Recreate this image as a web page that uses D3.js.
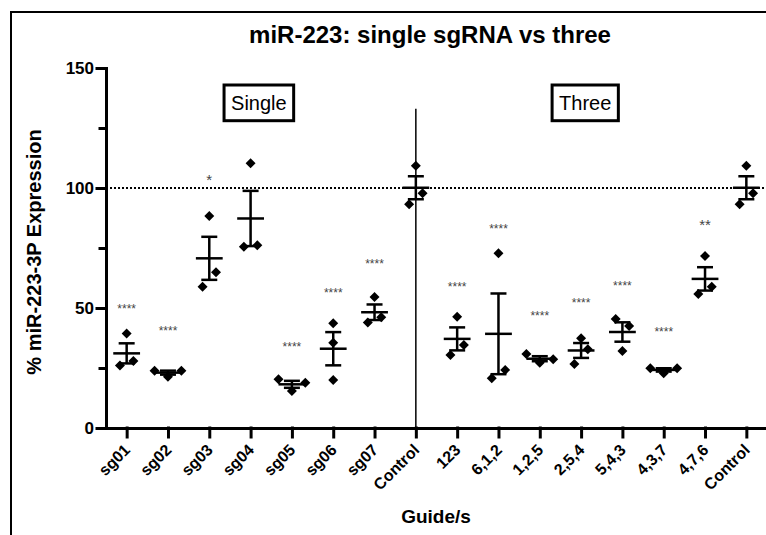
<!DOCTYPE html>
<html>
<head>
<meta charset="utf-8">
<script src="https://cdn.jsdelivr.net/npm/d3@7"></script>
<style>
  body { margin: 0; background: #fff; }
  svg { display: block; font-family: "Liberation Sans", Arial, sans-serif; }
</style>
</head>
<body>
<svg id="chart" width="766" height="535"></svg>
<script>
// categories along the x axis (two groups: single guides, then three-guide pools)
var categories = ['sg01', 'sg02', 'sg03', 'sg04', 'sg05', 'sg06', 'sg07', 'Control',
                  '123', '6,1,2', '1,2,5', '2,5,4', '5,4,3', '4,3,7', '4,7,6', 'Control'];

// the three replicates of each category (% expression)
var rep1 = [26.0, 23.9, 58.9, 75.5, 20.3, 43.6, 44.0, 93.2, 30.4, 20.7, 30.8, 26.7, 45.4, 24.9, 55.8, 93.2];
var rep2 = [39.4, 21.4, 88.3, 110.3, 15.4, 35.5, 54.6, 109.3, 46.4, 72.8, 27.2, 37.4, 42.5, 22.8, 71.7, 109.3];
var rep3 = [27.9, 23.9, 64.9, 76.1, 18.9, 20.0, 46.1, 97.8, 34.6, 24.2, 28.6, 32.8, 32.1, 24.9, 58.9, 97.8];

// significance marks and the level (in % units) where they sit
var stars     = ['****', '****', '*', '', '****', '****', '****', '', '****', '****', '****', '****', '****', '****', '**', ''];
var starLevel = [51, 41.8, 104.7, 0, 34.9, 57.5, 69.6, 0, 59.9, 84.2, 47.8, 53.3, 60.5, 41.1, 86, 0];

var yMajor = [0, 50, 100, 150];
var yMinor = [25, 75, 125];
var reference = 100;

var svg = d3.select('#chart');
var font = '"Liberation Sans", Arial, sans-serif';

var x = d3.scalePoint().domain(d3.range(categories.length)).range([106, 767]).padding(0.5);
var y = d3.scaleLinear().domain([0, 150]).range([428, 68]);

// outer frame (cut off at right and bottom like the original)
svg.append('rect')
   .attr('x', 11).attr('y', 12).attr('width', 900).attr('height', 700)
   .style('fill', 'none').style('stroke', '#000').style('stroke-width', 2);

svg.append('text')
   .attr('x', 430).attr('y', 43)
   .attr('text-anchor', 'middle')
   .style('font-size', '24px').style('font-weight', 'bold')
   .text('miR-223: single sgRNA vs three');

// reference line at 100 %
svg.append('line')
   .attr('x1', 106).attr('x2', 767)
   .attr('y1', y(reference)).attr('y2', y(reference))
   .style('stroke', '#000').style('stroke-width', 2).style('stroke-dasharray', '2,2');

// separator between the two groups
svg.append('line')
   .attr('x1', x(7)).attr('x2', x(7))
   .attr('y1', y(133)).attr('y2', y(0))
   .style('stroke', '#000').style('stroke-width', 1.5);

// axes
var yAxis = svg.append('g').attr('transform', 'translate(106,0)')
   .call(d3.axisLeft(y).tickValues(yMajor).tickSize(9).tickSizeOuter(0).tickPadding(3));
svg.append('g').attr('transform', 'translate(106,0)')
   .call(d3.axisLeft(y).tickValues(yMinor).tickSize(6).tickSizeOuter(0).tickFormat(''))
   .select('.domain').remove();
yAxis.selectAll('text').style('font-size', '17px').style('font-weight', 'bold').style('font-family', font);

var xAxis = svg.append('g').attr('transform', 'translate(0,428)')
   .call(d3.axisBottom(x).tickSize(9).tickSizeOuter(0).tickFormat(function(i) { return categories[i]; }));
xAxis.selectAll('text')
   .attr('text-anchor', 'end')
   .attr('x', 0).attr('y', 0).attr('dy', '0.35em')
   .attr('transform', 'translate(0,19) rotate(-45)')
   .style('font-size', '16px').style('font-weight', 'bold').style('font-family', font);

svg.selectAll('.domain, .tick line')
   .style('stroke', '#000').style('stroke-width', 3).style('stroke-linecap', 'square');

svg.append('text')
   .attr('transform', 'translate(41,252) rotate(-90)')
   .attr('text-anchor', 'middle')
   .style('font-size', '20px').style('font-weight', 'bold')
   .text('% miR-223-3P Expression');

svg.append('text')
   .attr('x', 436).attr('y', 523)
   .attr('text-anchor', 'middle')
   .style('font-size', '19px').style('font-weight', 'bold')
   .text('Guide/s');

// build groups: mean, SEM and dodged points
var groups = categories.map(function(c, i) {
  var vals = [rep1[i], rep2[i], rep3[i]];
  var mean = d3.mean(vals);
  var sem = d3.deviation(vals) / Math.sqrt(vals.length);
  // GraphPad-like dodge: bin close values, spread each bin symmetrically
  var order = d3.range(vals.length).sort(function(a, b) { return vals[a] - vals[b]; });
  var bins = [], cur = null;
  order.forEach(function(k) {
    if (cur && vals[k] - cur.start <= 7) cur.items.push(k);
    else { cur = {start: vals[k], items: [k]}; bins.push(cur); }
  });
  var pts = [];
  bins.forEach(function(b) {
    b.items.sort(d3.ascending);
    b.items.forEach(function(k, j) {
      pts.push({v: vals[k], dx: (j - (b.items.length - 1) / 2) * 13.4});
    });
  });
  return {i: i, mean: mean, sem: sem, pts: pts};
});

var grp = svg.selectAll('.grp').data(groups).enter().append('g').attr('class', 'grp');

grp.append('line')
   .attr('x1', function(d) { return x(d.i) - 13.4; }).attr('x2', function(d) { return x(d.i) + 13.4; })
   .attr('y1', function(d) { return y(d.mean); }).attr('y2', function(d) { return y(d.mean); });
grp.append('line')
   .attr('x1', function(d) { return x(d.i); }).attr('x2', function(d) { return x(d.i); })
   .attr('y1', function(d) { return y(d.mean + d.sem); }).attr('y2', function(d) { return y(d.mean - d.sem); });
grp.append('line')
   .attr('x1', function(d) { return x(d.i) - 8; }).attr('x2', function(d) { return x(d.i) + 8; })
   .attr('y1', function(d) { return y(d.mean + d.sem); }).attr('y2', function(d) { return y(d.mean + d.sem); });
grp.append('line')
   .attr('x1', function(d) { return x(d.i) - 8; }).attr('x2', function(d) { return x(d.i) + 8; })
   .attr('y1', function(d) { return y(d.mean - d.sem); }).attr('y2', function(d) { return y(d.mean - d.sem); });
grp.selectAll('line').style('stroke', '#000').style('stroke-width', 2.5);

var diamond = d3.symbol().type(d3.symbolSquare).size(50);
grp.selectAll('path').data(function(d) { return d.pts.map(function(p) { return {i: d.i, v: p.v, dx: p.dx}; }); })
   .enter().append('path')
   .attr('d', diamond)
   .attr('transform', function(d) { return 'translate(' + (x(d.i) + d.dx) + ',' + y(d.v) + ') rotate(45)'; })
   .style('fill', '#000');

// significance stars
svg.selectAll('.star').data(categories.map(function(c, i) { return {i: i, s: stars[i], lvl: starLevel[i]}; })
      .filter(function(d) { return d.s !== ''; }))
   .enter().append('text')
   .attr('class', 'star')
   .attr('text-anchor', 'middle')
   .attr('x', function(d) { return x(d.i); })
   .attr('y', function(d) { var fs = d.s.length > 2 ? 12 : 15; return y(d.lvl) + 0.58 * fs; })
   .style('font-size', function(d) { return (d.s.length > 2 ? 12 : 15) + 'px'; })
   .style('fill', '#444')
   .text(function(d) { return d.s; });

// group labels in boxes
var boxes = [{text: 'Single', cx: x(0) + 3.2 * x.step()}, {text: 'Three', cx: x(0) + 11.1 * x.step()}];
boxes.forEach(function(b) {
  var t = svg.append('text')
     .attr('x', b.cx).attr('y', 110)
     .attr('text-anchor', 'middle')
     .style('font-size', '20px')
     .text(b.text);
  var w = t.node().getComputedTextLength() + 14;
  svg.insert('rect', 'text')
     .attr('x', b.cx - w / 2).attr('y', 85).attr('width', w).attr('height', 35.7)
     .style('fill', '#fff').style('stroke', '#000').style('stroke-width', 3);
});
</script>
</body>
</html>
